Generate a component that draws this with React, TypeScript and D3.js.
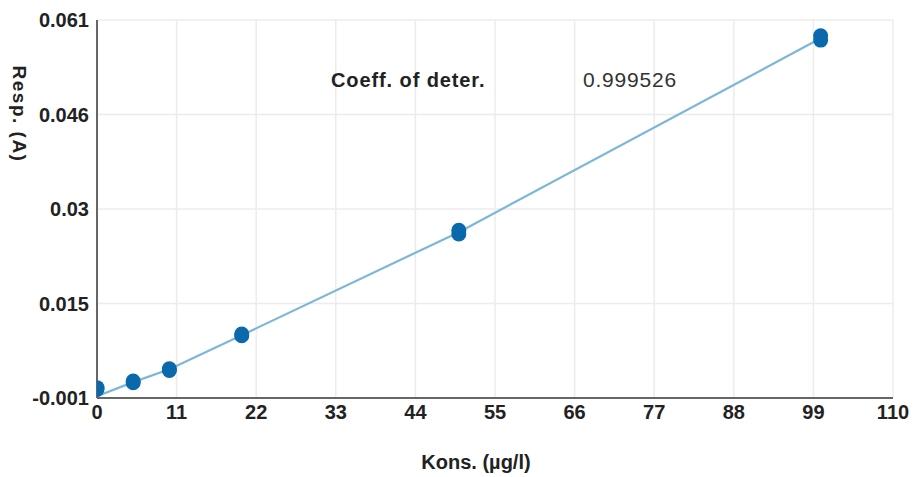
import React from "react";
import * as d3 from "d3";

// calibration replicates
const concentrations = [0, 0, 5, 5, 10, 10, 20, 20, 50, 50, 100, 100];
const responses = [0.0004, 0.0007, 0.0015, 0.0018, 0.0035, 0.0038, 0.0092, 0.0095, 0.0259, 0.0265, 0.0577, 0.0584];

// fitted curve
const fitConc = [0, 5, 10, 20, 50, 100];
const fitResp = [-0.0007, 0.0016, 0.0037, 0.0093, 0.0262, 0.058];

const xTicks = [0, 11, 22, 33, 44, 55, 66, 77, 88, 99, 110];
const yTicks = [-0.001, 0.0145, 0.03, 0.0455, 0.061];
const yTickLabels = ["-0.001", "0.015", "0.03", "0.046", "0.061"];

const width = 914;
const height = 477;
const margin = { top: 20, right: 21, bottom: 79, left: 97 };

const App = () => {
  const x = d3.scaleLinear().domain([0, 110]).range([margin.left, width - margin.right]);
  const y = d3.scaleLinear().domain([-0.001, 0.061]).range([height - margin.bottom, margin.top]);

  const line = d3
    .line<number>()
    .x((d, i) => x(fitConc[i]))
    .y((d) => y(d));

  const font = "'Liberation Sans', Arial, sans-serif";
  const x0 = x(0);
  const x1 = x(110);
  const yb = y(-0.001);
  const yt = y(0.061);

  return (
    <svg
      width={width}
      height={height}
      style={{ position: "absolute", left: 0, top: 0, background: "#fff" }}
      fontFamily={font}
    >
      <defs>
        <clipPath id="plot">
          <rect x={x0} y={yt - 10} width={x1 - x0} height={yb - yt + 10} />
        </clipPath>
      </defs>

      {/* grid */}
      {xTicks.map((t) => (
        <line key={"gx" + t} x1={x(t)} x2={x(t)} y1={yt} y2={yb} stroke="#ececec" strokeWidth={1.5} />
      ))}
      {yTicks.map((t) => (
        <line key={"gy" + t} x1={x0} x2={x1} y1={y(t)} y2={y(t)} stroke="#ececec" strokeWidth={1.5} />
      ))}

      {/* axes */}
      <line x1={x0} x2={x0} y1={yt} y2={yb} stroke="#666" strokeWidth={2} />
      <line x1={x0} x2={x1} y1={yb} y2={yb} stroke="#666" strokeWidth={2} />

      {/* fit line */}
      <path d={line(fitResp) || ""} fill="none" stroke="#7db7d8" strokeWidth={2.2} clipPath="url(#plot)" />

      {/* points */}
      <g clipPath="url(#plot)">
        {responses.map((r, i) => (
          <circle key={i} cx={x(concentrations[i])} cy={y(r)} r={7.5} fill="#0a69ad" />
        ))}
      </g>

      {/* y tick labels */}
      {yTicks.map((t, i) => (
        <text
          key={"ly" + t}
          x={x0 - 8}
          y={y(t)}
          dy="0.36em"
          textAnchor="end"
          fontSize={20}
          fontWeight="bold"
          fill="#222"
        >
          {yTickLabels[i]}
        </text>
      ))}

      {/* x tick labels */}
      {xTicks.map((t) => (
        <text
          key={"lx" + t}
          x={x(t)}
          y={yb + 21}
          textAnchor="middle"
          fontSize={20}
          fontWeight="bold"
          fill="#222"
        >
          {t}
        </text>
      ))}

      {/* axis titles */}
      <text x={476} y={469} textAnchor="middle" fontSize={20} fontWeight="bold" fill="#222">
        Kons. (µg/l)
      </text>
      <text
        transform={`translate(13, 114) rotate(90)`}
        textAnchor="middle"
        fontSize={19}
        fontWeight="bold"
        letterSpacing={1.5}
        fill="#222"
      >
        Resp. (A)
      </text>

      {/* annotation */}
      <text x={331} y={87} fontSize={20} fontWeight="bold" letterSpacing={0.9} fill="#222">
        Coeff. of deter.
      </text>
      <text x={583} y={87} fontSize={21} letterSpacing={0.8} fill="#333">
        0.999526
      </text>
    </svg>
  );
};

export default App;
